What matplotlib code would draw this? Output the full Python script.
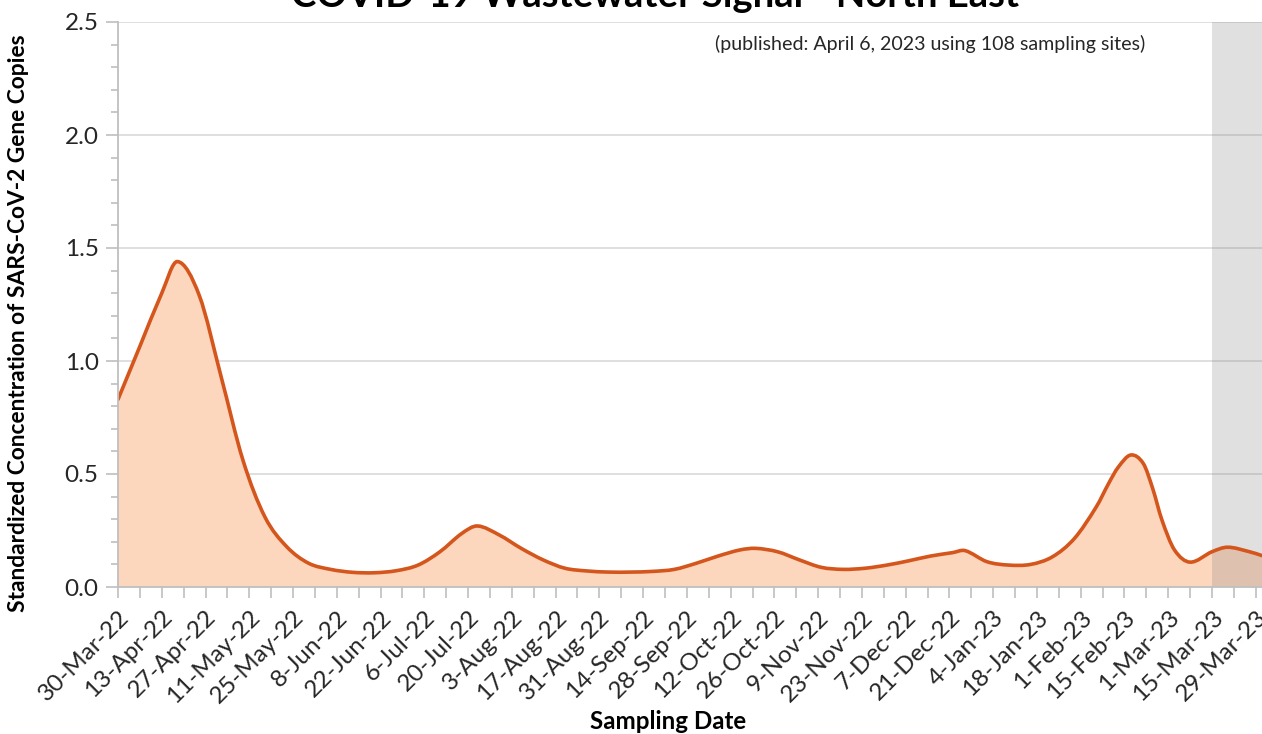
import matplotlib
matplotlib.use("Agg")
import matplotlib.pyplot as plt
import matplotlib.dates as mdates
from matplotlib.path import Path
from matplotlib.patches import PathPatch
import numpy as np
import pandas as pd

# sampling dates (days after 30-Mar-22) and standardized concentration
day_offsets = [0, 7, 14, 19, 26, 33, 40, 47, 54, 61, 68, 75, 82, 89, 96, 103,
               110, 115, 122, 129, 136, 143, 150, 157, 164, 171, 178, 185, 192,
               199, 204, 211, 218, 225, 232, 239, 246, 253, 260, 267, 271, 278,
               285, 292, 299, 306, 313, 317, 320, 324, 328, 331, 334, 338, 343,
               350, 355, 362, 366]
values = [0.83, 1.065, 1.30, 1.44, 1.29, 0.93, 0.56, 0.31, 0.178, 0.105, 0.078,
          0.065, 0.063, 0.072, 0.097, 0.156, 0.237, 0.27, 0.23, 0.171, 0.12,
          0.083, 0.071, 0.066, 0.066, 0.069, 0.078, 0.105, 0.137, 0.164, 0.171,
          0.156, 0.12, 0.087, 0.078, 0.083, 0.097, 0.116, 0.137, 0.152, 0.161,
          0.112, 0.097, 0.10, 0.134, 0.215, 0.355, 0.46, 0.53, 0.584, 0.547,
          0.437, 0.296, 0.164, 0.11, 0.156, 0.176, 0.156, 0.139]

start_date = pd.Timestamp("2022-03-30")
tick_dates = pd.date_range("2022-03-30", "2023-03-29", freq="14D")
week_dates = pd.date_range("2022-03-30", "2023-03-29", freq="7D")
shade_start = pd.Timestamp("2023-03-15")
title = "COVID-19 Wastewater Signal - North East"
note = "(published: April 6, 2023 using 108 sampling sites)"

line_color = "#D4561C"
fill_color = "#FDD6BE"


def smooth_path(x, y, closed_to=None):
    """ cubic hermite path through the points, drawn as bezier segments """
    n = len(x)
    slopes = np.zeros(n)
    for i in range(n):
        i0 = max(i - 1, 0)
        i1 = min(i + 1, n - 1)
        slopes[i] = (y[i1] - y[i0]) / (x[i1] - x[i0])
    verts = [(x[0], y[0])]
    codes = [Path.MOVETO]
    for i in range(n - 1):
        h = x[i + 1] - x[i]
        c1 = (x[i] + h / 3.0, y[i] + slopes[i] * h / 3.0)
        c2 = (x[i + 1] - h / 3.0, y[i + 1] - slopes[i + 1] * h / 3.0)
        verts += [c1, c2, (x[i + 1], y[i + 1])]
        codes += [Path.CURVE4] * 3
    if closed_to is not None:
        verts += [(x[-1], closed_to), (x[0], closed_to), (x[0], y[0])]
        codes += [Path.LINETO, Path.LINETO, Path.CLOSEPOLY]
    return Path(verts, codes)


def main() -> None:
    plt.rcParams["font.family"] = ["Lato", "DejaVu Sans"]

    dates = [start_date + pd.Timedelta(days=d) for d in day_offsets]
    x = mdates.date2num(dates)
    y = np.array(values)

    fig = plt.figure(figsize=(12.62, 7.34), dpi=100)
    ax = fig.add_axes([118 / 1262, 1 - 587 / 734, 1 - 118 / 1262, 565 / 734])

    ax.add_patch(PathPatch(smooth_path(x, y, closed_to=0.0), facecolor=fill_color,
                           edgecolor="none", zorder=2))
    ax.add_patch(PathPatch(smooth_path(x, y), facecolor="none", edgecolor=line_color,
                           linewidth=2.6, zorder=4, capstyle="round"))

    x_right = mdates.date2num(start_date + pd.Timedelta(days=366))
    ax.axvspan(mdates.date2num(shade_start), x_right, color="#808080", alpha=0.24,
               linewidth=0, zorder=3)

    ax.set_xlim(x[0], x_right)
    ax.set_ylim(0, 2.5)

    ax.set_yticks(np.arange(0, 2.51, 0.5))
    ax.set_yticks(np.arange(0, 2.51, 0.1), minor=True)
    ax.set_yticklabels([f"{v:.1f}" for v in np.arange(0, 2.51, 0.5)])
    ax.yaxis.grid(True, color="#D9D9D9", linewidth=1.2, zorder=0)
    ax.set_axisbelow(True)

    ax.set_xticks(mdates.date2num(tick_dates))
    ax.set_xticks(mdates.date2num(week_dates), minor=True)
    ax.set_xticklabels([f"{d.day}-{d:%b-%y}" for d in tick_dates], rotation=45,
                       ha="right", rotation_mode="anchor")

    for s in ["top", "right"]:
        ax.spines[s].set_visible(False)
    for s in ["left", "bottom"]:
        ax.spines[s].set_color("#BFBFBF")
        ax.spines[s].set_linewidth(1.3)
        ax.spines[s].set_zorder(5)

    ax.tick_params(axis="both", which="both", color="#BFBFBF", width=1.2,
                   labelcolor="#262626")
    ax.tick_params(axis="y", which="major", length=9, pad=5, labelsize=17.5)
    ax.tick_params(axis="y", which="minor", length=5)
    ax.tick_params(axis="x", which="both", length=8, pad=6, labelsize=17.5)

    ax.set_ylabel("Standardized Concentration of SARS-CoV-2 Gene Copies",
                  fontsize=16.4, fontweight="bold", color="#000000")
    ax.yaxis.set_label_coords(-0.0775, 0.467)
    ax.set_xlabel("Sampling Date", fontsize=17.4, fontweight="bold", color="#000000")
    ax.xaxis.set_label_coords(0.481, -0.218)

    fig.text(655 / 1262, 1 - 7 / 734, title, ha="center", va="baseline",
             fontsize=27.5, fontweight="bold", color="#000000")
    fig.text(1145 / 1262, 1 - 44 / 734, note, ha="right", va="center",
             fontsize=14.1, color="#262626")

    fig.savefig("out.png", dpi=100)


if "__main__" == __name__:
    main()
